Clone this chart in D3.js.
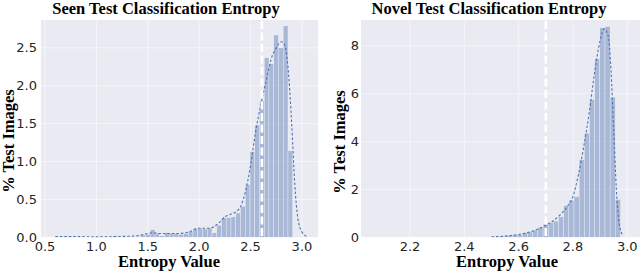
<!DOCTYPE html>
<html>
<head>
<meta charset="utf-8">
<script src="https://cdn.jsdelivr.net/npm/d3@7"></script>
<style>
  body { margin: 0; background: #fff; }
</style>
</head>
<body>
<svg id="fig" width="640" height="272"></svg>
<script>
// dados (valores em % de imagens)
const seenInicio = 0.6;
const seenLargura = 0.0462;
const seenBarras = [
  0.01, 0.01, 0.01, 0.01, 0.005, 0, 0, 0.005, 0.005, 0.005,
  0, 0, 0.02, 0, 0.005, 0.005, 0, 0.01, 0.03, 0.04,
  0.10, 0.05, 0.02, 0.06, 0.05, 0.05, 0.04, 0.05, 0.08, 0.12,
  0.12, 0.11, 0.12, 0.06, 0.16, 0.26, 0.26, 0.27, 0.32, 0.41,
  0.70, 1.13, 1.48, 1.80, 2.37, 2.29, 2.67, 2.50, 2.79, 1.14
];
const seenKdeX = [0.6, 0.8, 1.0, 1.2, 1.4, 1.5, 1.55, 1.6, 1.7, 1.8, 1.9, 2.0, 2.1, 2.2, 2.25, 2.3, 2.35, 2.4, 2.45, 2.5, 2.55, 2.6, 2.65, 2.7, 2.75, 2.8, 2.83, 2.86, 2.9, 2.93, 2.96, 3.0, 3.05];
const seenKdeY = [0.01, 0.01, 0.005, 0.01, 0.02, 0.05, 0.06, 0.05, 0.05, 0.05, 0.07, 0.12, 0.12, 0.2, 0.27, 0.3, 0.33, 0.4, 0.6, 0.95, 1.4, 1.75, 2.05, 2.35, 2.5, 2.58, 2.55, 2.3, 1.5, 0.7, 0.25, 0.07, 0.01];
const seenTicksX = [0.5, 1.0, 1.5, 2.0, 2.5, 3.0];
const seenTicksY = [0, 0.5, 1.0, 1.5, 2.0, 2.5];
const seenLimiar = 2.61;

const novelInicio = 2.5;
const novelLargura = 0.019;
const novelBarras = [
  0.03, 0.04, 0.05, 0.07, 0.10, 0.12, 0.20, 0.22, 0.30, 0.42,
  0.55, 0.62, 0.68, 0.85, 1.32, 1.55, 1.70, 3.25, 4.35, 5.75,
  7.45, 8.75, 8.80, 5.85, 1.58
];
const novelKdeX = [2.5, 2.55, 2.6, 2.65, 2.7, 2.75, 2.78, 2.8, 2.82, 2.84, 2.86, 2.88, 2.9, 2.915, 2.93, 2.94, 2.95, 2.96, 2.97, 2.985];
const novelKdeY = [0.02, 0.05, 0.12, 0.25, 0.5, 0.9, 1.3, 1.7, 2.6, 3.8, 5.2, 6.9, 8.2, 8.7, 8.4, 7.0, 4.5, 2.0, 0.6, 0.05];
const novelTicksX = [2.2, 2.4, 2.6, 2.8, 3.0];
const novelTicksY = [0, 2, 4, 6, 8];
const novelLimiar = 2.70;

const corFundo = '#EAEAF2';
const corAzul = '#4C72B0';

const svg = d3.select('#fig');

// desenha um painel do histograma
function painel(p) {
  const g = svg.append('g');

  const fnX = d3.scaleLinear().domain(p.dominioX).range([p.x0, p.x1]);
  const fnY = d3.scaleLinear().domain(p.dominioY).range([p.y1, p.y0]);

  // fundo estilo seaborn
  g.append('rect')
    .attr('x', p.x0).attr('y', p.y0)
    .attr('width', p.x1 - p.x0).attr('height', p.y1 - p.y0)
    .attr('fill', corFundo);

  const clipId = 'clip-' + p.id;
  g.append('clipPath').attr('id', clipId)
    .append('rect')
    .attr('x', p.x0).attr('y', p.y0)
    .attr('width', p.x1 - p.x0).attr('height', p.y1 - p.y0);

  // grade (bem suave, como na figura)
  g.selectAll('.gx').data(p.ticksX).enter().append('line')
    .attr('x1', d => fnX(d)).attr('x2', d => fnX(d))
    .attr('y1', p.y0).attr('y2', p.y1)
    .attr('stroke', '#fff').attr('stroke-width', 0.8).attr('stroke-opacity', 0.65);
  g.selectAll('.gy').data(p.ticksY).enter().append('line')
    .attr('y1', d => fnY(d)).attr('y2', d => fnY(d))
    .attr('x1', p.x0).attr('x2', p.x1)
    .attr('stroke', '#fff').attr('stroke-width', 0.8).attr('stroke-opacity', 0.65);

  const area = g.append('g').attr('clip-path', 'url(#' + clipId + ')');

  // barras
  area.selectAll('.barra').data(p.barras).enter().append('rect')
    .attr('x', (d, i) => fnX(p.inicio + i * p.largura))
    .attr('width', (d, i) => fnX(p.inicio + (i + 1) * p.largura) - fnX(p.inicio + i * p.largura))
    .attr('y', d => fnY(d))
    .attr('height', d => fnY(0) - fnY(d))
    .attr('fill', corAzul).attr('fill-opacity', 0.42)
    .attr('stroke', '#fff').attr('stroke-width', 0.4).attr('stroke-opacity', 0.8);

  // curva de densidade
  const linha = d3.line()
    .x(d => fnX(d[0])).y(d => fnY(d[1]))
    .curve(d3.curveMonotoneX);
  area.append('path')
    .datum(p.kdeX.map((x, i) => [x, p.kdeY[i]]))
    .attr('d', linha)
    .attr('fill', 'none')
    .attr('stroke', corAzul).attr('stroke-width', 1.1)
    .attr('stroke-dasharray', '2.5,2');

  // limiar tracejado
  area.append('line')
    .attr('x1', fnX(p.limiar)).attr('x2', fnX(p.limiar))
    .attr('y1', p.y0 + 1).attr('y2', p.y1)
    .attr('stroke', '#fff').attr('stroke-width', 2.6)
    .attr('stroke-dasharray', '8,3.5');

  // rótulos dos ticks
  g.selectAll('.tx').data(p.ticksX).enter().append('text')
    .attr('x', d => fnX(d)).attr('y', p.y1 + 13.5)
    .attr('text-anchor', 'middle')
    .style('font-family', 'DejaVu Sans').style('font-size', '13px')
    .attr('fill', '#262626')
    .text(d => p.fmtX(d));
  g.selectAll('.ty').data(p.ticksY).enter().append('text')
    .attr('x', p.rotY).attr('y', d => fnY(d)).attr('dy', '0.36em')
    .attr('text-anchor', 'end')
    .style('font-family', 'DejaVu Sans').style('font-size', '13px')
    .attr('fill', '#262626')
    .text(d => p.fmtY(d));

  // títulos
  const serif = '"Liberation Serif", "Times New Roman", serif';
  g.append('text')
    .attr('x', p.tituloX).attr('y', 14)
    .attr('text-anchor', 'middle')
    .style('font-family', serif).style('font-weight', 'bold').style('font-size', '16.5px')
    .text(p.titulo);
  g.append('text')
    .attr('x', p.rotuloX).attr('y', 266.5)
    .attr('text-anchor', 'middle')
    .style('font-family', serif).style('font-weight', 'bold').style('font-size', '16.5px')
    .text('Entropy Value');
  g.append('text')
    .attr('transform', 'translate(' + p.rotuloYx + ',' + p.rotuloYy + ') rotate(-90)')
    .attr('text-anchor', 'middle')
    .style('font-family', serif).style('font-weight', 'bold').style('font-size', '16.5px')
    .text('% Test Images');
}

painel({
  id: 'seen', x0: 41, x1: 318, y0: 20, y1: 237.3,
  dominioX: [0.461, 3.156], dominioY: [0, 2.867],
  inicio: seenInicio, largura: seenLargura, barras: seenBarras,
  kdeX: seenKdeX, kdeY: seenKdeY, limiar: seenLimiar,
  ticksX: seenTicksX, ticksY: seenTicksY,
  fmtX: d3.format('.1f'), fmtY: d3.format('.1f'), rotY: 37,
  titulo: 'Seen Test Classification Entropy', tituloX: 166,
  rotuloX: 169, rotuloYx: 14, rotuloYy: 141
});

painel({
  id: 'novel', x0: 361, x1: 640, y0: 20, y1: 237.3,
  dominioX: [2.0195, 3.047], dominioY: [0, 9.07],
  inicio: novelInicio, largura: novelLargura, barras: novelBarras,
  kdeX: novelKdeX, kdeY: novelKdeY, limiar: novelLimiar,
  ticksX: novelTicksX, ticksY: novelTicksY,
  fmtX: d3.format('.1f'), fmtY: d3.format('d'), rotY: 359,
  titulo: 'Novel Test Classification Entropy', tituloX: 489,
  rotuloX: 507, rotuloYx: 345, rotuloYy: 142
});
</script>
</body>
</html>
